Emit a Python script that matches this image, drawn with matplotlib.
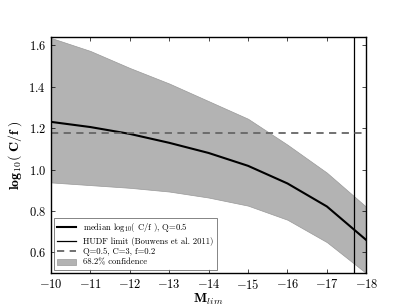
import numpy as np
import matplotlib
matplotlib.use('Agg')
import matplotlib.pyplot as plt

plt.rcParams['font.family'] = 'serif'
plt.rcParams['font.serif'] = ['cmr10', 'DejaVu Serif']
plt.rcParams['mathtext.fontset'] = 'cm'
plt.rcParams['axes.formatter.use_mathtext'] = True
plt.rcParams['axes.unicode_minus'] = True

# Données
m_lim = np.array([-10, -11, -12, -13, -14, -15, -16, -17, -18])
mediane = np.array([1.230, 1.205, 1.172, 1.129, 1.080, 1.018, 0.933, 0.822, 0.660])
haut = np.array([1.635, 1.572, 1.490, 1.415, 1.330, 1.245, 1.120, 0.985, 0.820])
bas = np.array([0.938, 0.925, 0.912, 0.894, 0.865, 0.826, 0.758, 0.650, 0.500])
hudf_limite = -17.7
ref_cf = np.log10(3 / 0.2)

fig = plt.figure(figsize=(4.07, 3.07), dpi=100)
ax = fig.add_subplot(111)

ax.fill_between(m_lim, bas, haut, facecolor='0.7', edgecolor='0.6', lw=0.5,
                label='68.2% confidence')
ax.plot(m_lim, mediane, color='k', lw=1.5, label=r'median log$_{10}$( C/f ), Q=0.5')
ax.axvline(hudf_limite, color='k', lw=0.9, label='HUDF limit (Bouwens et al. 2011)')
ax.axhline(ref_cf, color='0.4', lw=1.3, ls='--', dashes=(4, 3), label='Q=0.5, C=3, f=0.2')

ax.set_xlim(-10, -18)
ax.set_ylim(0.5, 1.64)
ax.set_yticks([0.6, 0.8, 1.0, 1.2, 1.4, 1.6])
ax.set_xticks(np.arange(-10, -19, -1))
ax.tick_params(direction='in', top=True, right=True, labelsize=9, length=3, width=0.5)
for s in ax.spines.values():
    s.set_linewidth(1.0)

ax.set_xlabel(r'$\mathbf{M}_{lim}$', fontsize=10, labelpad=0)
ax.set_ylabel(r'$\mathbf{log_{10}(\ C/f\ )}$', fontsize=10, labelpad=3)

h, l = ax.get_legend_handles_labels()
ordre = [1, 2, 3, 0]
leg = ax.legend([h[i] for i in ordre], [l[i] for i in ordre], loc='lower left',
                fontsize=6.2, frameon=True, fancybox=False, handlelength=2.2,
                borderpad=0.4, labelspacing=0.25, borderaxespad=0.35)
leg.get_frame().set_edgecolor('0.3')
leg.get_frame().set_linewidth(0.6)

fig.savefig('out.png', dpi=100)
